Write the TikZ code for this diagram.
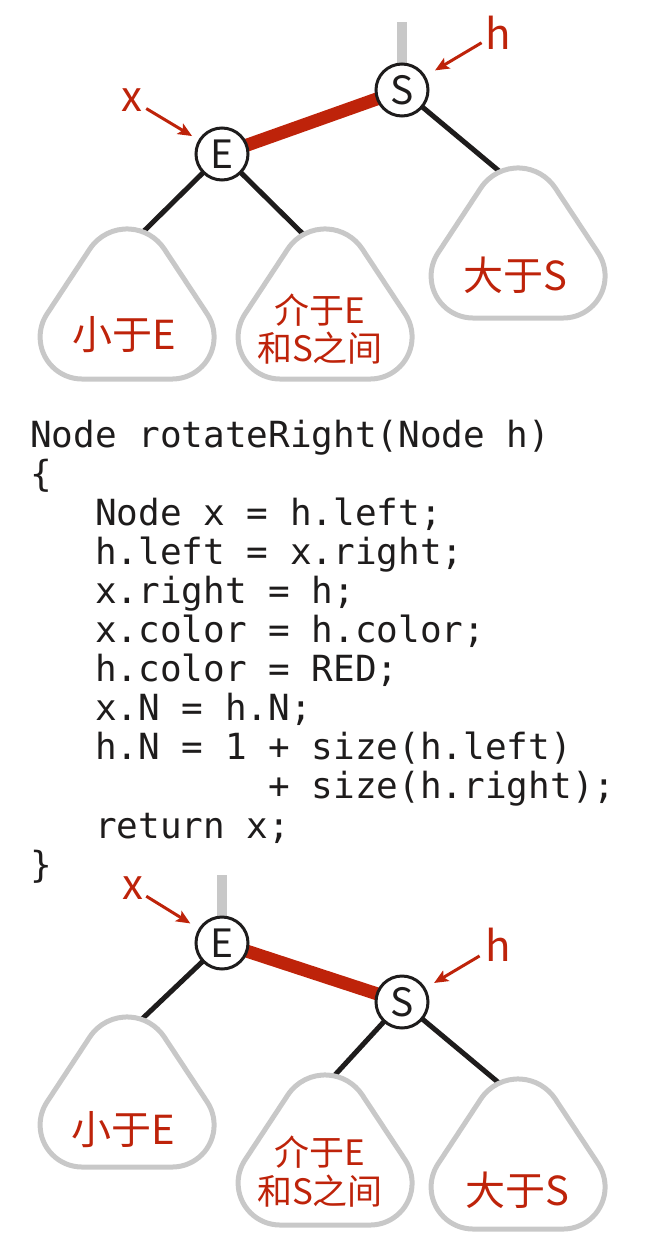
\documentclass[tikz,border=0pt]{standalone}
\usepackage{fontspec}
\newfontfamily\cjk{Noto Sans CJK SC}
\newfontfamily\codefont{DejaVu Sans Mono}
\usetikzlibrary{arrows.meta}
\definecolor{bred}{RGB}{190,35,10}
\definecolor{tgray}{RGB}{200,200,200}
\definecolor{ink}{RGB}{30,28,28}
\pgfdeclarelayer{bg}
\pgfsetlayers{bg,main}
\tikzset{
  treenode/.style={circle, draw=ink, line width=3pt, fill=white, minimum size=52pt,
    inner sep=0pt, font=\cjk\fontsize{39}{39}\selectfont, text=ink},
  link/.style={draw=ink, line width=5pt},
  redlink/.style={draw=bred, line width=13pt},
  stub/.style={draw=tgray, line width=10pt},
  subtri/.style={draw=tgray, line width=5pt, line join=round},
  ptrlabel/.style={text=bred, font=\cjk\fontsize{42}{42}\selectfont, inner sep=0pt},
  ptr/.style={draw=bred, line width=3pt, -{Stealth[length=14pt,width=12pt,inset=3pt]}},
  tlabel/.style={text=bred, font=\cjk\fontsize{40}{40}\selectfont, inner sep=0pt},
  tlabeltwo/.style={text=bred, font=\cjk\fontsize{35}{35}\selectfont, inner sep=0pt},
  codeline/.style={anchor=base west, inner sep=0pt, font=\codefont\fontsize{36}{36}\selectfont, text=ink},
}
\newcommand\subtreeshape[2]{%
  \draw[subtri] (#1,#2) ++(-37.2,20) arc[start angle=213.4,end angle=326.6,radius=44.6]
    -- ++(42.9,64.9) arc[start angle=-33.4,end angle=90,radius=42]
    -- ++(-90,0) arc[start angle=90,end angle=213.4,radius=42] -- cycle;}
\begin{document}
\begin{tikzpicture}[x=1pt,y=-1pt]
\useasboundingbox (0,0) rectangle (654,1244);

% ---------- top tree ----------
\node[treenode] (tS) at (402,90) {S};
\node[treenode] (tE) at (222,154) {E};
\coordinate (tSroot) at (402,22);
\coordinate (tLend) at (143,232);
\coordinate (tMend) at (303,234);
\coordinate (tRend) at (499,171);
\begin{pgfonlayer}{bg}
  \draw[stub] (tS.center) -- (tSroot);
  \draw[redlink] (tE.center) -- (tS.center);
  \draw[link] (tE.center) -- (tLend);
  \draw[link] (tE.center) -- (tMend);
  \draw[link] (tS.center) -- (tRend);
\end{pgfonlayer}
\subtreeshape{127}{229}
\subtreeshape{325}{229}
\subtreeshape{518}{168}
\node[tlabel] (tLtxt) at (124,335) {小于E};
\node[tlabeltwo] (tMtxt1) at (320,310) {介于E};
\node[tlabeltwo] (tMtxt2) at (320,348) {和S之间};
\node[tlabel] (tRtxt) at (515,275) {大于S};
\node[ptrlabel] (txl) at (132,100) {x};
\node[ptrlabel] (thl) at (498,33) {h};
\draw[ptr, shorten <=16.6pt, shorten >=34.9pt] (txl.center) -- (tE.center);
\draw[ptr, shorten <=19.1pt, shorten >=38.4pt] (thl.center) -- (tS.center);

% ---------- code ----------
\node[codeline] (c0) at (30,447) {Node rotateRight(Node h)};
\node[codeline] (c1) at (30,486.1) {\{};
\node[codeline] (c2) at (95,525.2) {Node x = h.left;};
\node[codeline] (c3) at (95,564.3) {h.left = x.right;};
\node[codeline] (c4) at (95,603.4) {x.right = h;};
\node[codeline] (c5) at (95,642.5) {x.color = h.color;};
\node[codeline] (c6) at (95,681.6) {h.color = RED;};
\node[codeline] (c7) at (95,720.7) {x.N = h.N;};
\node[codeline] (c8) at (95,759.8) {h.N = 1 + size(h.left)};
\node[codeline] (c9) at (268.4,798.9) {+ size(h.right);};
\node[codeline] (c10) at (95,838) {return x;};
\node[codeline] (c11) at (30,877.1) {\}};

% ---------- bottom tree ----------
\node[treenode] (bE) at (222,943) {E};
\node[treenode] (bS) at (402,1002) {S};
\coordinate (bEroot) at (222,875);
\coordinate (bLend) at (141.5,1019.5);
\coordinate (bMend) at (334,1076);
\coordinate (bRend) at (499,1083);
\begin{pgfonlayer}{bg}
  \draw[stub] (bE.center) -- (bEroot);
  \draw[redlink] (bE.center) -- (bS.center);
  \draw[link] (bE.center) -- (bLend);
  \draw[link] (bS.center) -- (bMend);
  \draw[link] (bS.center) -- (bRend);
\end{pgfonlayer}
\subtreeshape{127}{1017}
\subtreeshape{325}{1075}
\subtreeshape{518}{1079}
\node[tlabel] (bLtxt) at (123,1130) {小于E};
\node[tlabeltwo] (bMtxt1) at (320,1152) {介于E};
\node[tlabeltwo] (bMtxt2) at (320,1191) {和S之间};
\node[tlabel] (bRtxt) at (517,1190) {大于S};
\node[ptrlabel] (bxl) at (133,888) {x};
\node[ptrlabel] (bhl) at (498,945) {h};
\draw[ptr, shorten <=15.6pt, shorten >=37.2pt] (bxl.center) -- (bE.center);
\draw[ptr, shorten <=21.4pt, shorten >=37.3pt] (bhl.center) -- (bS.center);
\end{tikzpicture}
\end{document}
